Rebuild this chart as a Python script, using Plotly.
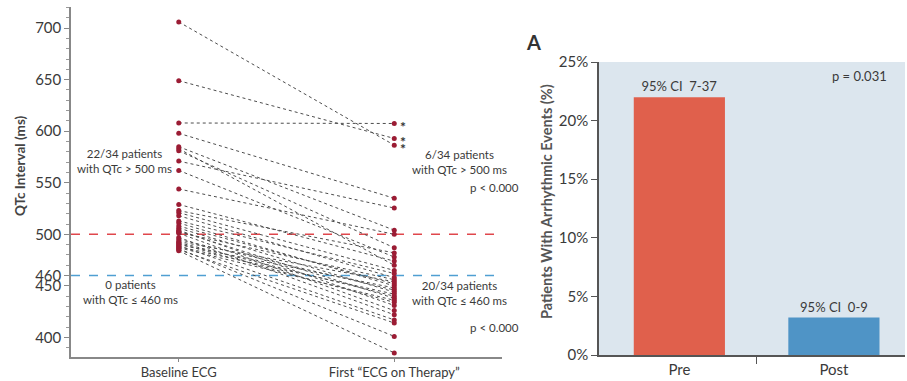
import plotly.graph_objects as go

# ---------------- data ----------------
baseline_qtc = [706, 649, 608, 598, 585, 583, 581, 571, 562, 544, 529, 523, 521, 518,
                513, 511, 508, 506, 504, 503, 502, 501, 497, 495, 493, 492, 491, 490,
                489, 488, 487, 486, 485, 484]
therapy_qtc = [586.5, 593, 607.5, 535, 504, 470, 487, 525.5, 478, 500, 474, 482, 465, 458,
               462, 450, 452, 444, 431, 438, 456, 426, 422, 446, 454, 440, 434, 448,
               417, 442, 436, 401, 414, 385]
starred_qtc = [607.5, 593, 586.5]
left_categories = ["Baseline ECG", "First \u201cECG on Therapy\u201d"]
left_tickvals = [400, 450, 460, 500, 550, 600, 650, 700]
threshold_high = 500
threshold_low = 460

bar_categories = ["Pre", "Post"]
bar_values = [22.0, 3.2]
bar_ci_labels = ["95% CI  7-37", "95% CI  0-9"]
bar_colors = ["#e0604c", "#4f94c6"]
bar_tickvals = [0, 5, 10, 15, 20, 25]
bar_ticktext = ["0%", "5%", "10%", "15%", "20%", "25%"]

W, H = 907, 381
FONT = "Lato"
TXT = "#3a3a3a"

def px_x(p):
    return p / W

def px_y(p):
    return 1 - p / H

fig = go.Figure()

# ---------------- left panel: slope chart ----------------
lx, ly = [], []
for b, t in zip(baseline_qtc, therapy_qtc):
    lx += [0, 1, None]
    ly += [b, t, None]
fig.add_trace(go.Scatter(x=lx, y=ly, mode="lines",
                         line=dict(color="#4d4d4d", width=1, dash="dot"),
                         hoverinfo="skip", showlegend=False, xaxis="x", yaxis="y"))
fig.add_trace(go.Scatter(x=[0] * len(baseline_qtc) + [1] * len(therapy_qtc),
                         y=baseline_qtc + therapy_qtc, mode="markers",
                         marker=dict(color="#9b1c34", size=5),
                         showlegend=False, xaxis="x", yaxis="y"))

for val, col in [(threshold_high, "#e0474c"), (threshold_low, "#4f9fd2")]:
    fig.add_shape(type="line", xref="x", yref="y", x0=-0.5, x1=1.5, y0=val, y1=val,
                  line=dict(color=col, width=1.5, dash="dash"), layer="below")

for v in starred_qtc:
    fig.add_annotation(x=1, y=v, xref="x", yref="y", text="<b>*</b>", showarrow=False,
                       xshift=9, yshift=-3, font=dict(family=FONT, size=14, color="#333"))

left_notes = [
    (-0.25, 571, "22/34 patients<br>with QTc > 500 ms"),
    (-0.226, 444, "0 patients<br>with QTc \u2264 460 ms"),
    (1.305, 570, "6/34 patients<br>with QTc > 500 ms"),
    (1.305, 443, "20/34 patients<br>with QTc \u2264 460 ms"),
]
for x, y, t in left_notes:
    fig.add_annotation(x=x, y=y, xref="x", yref="y", text=t, showarrow=False,
                       font=dict(family=FONT, size=11.5, color=TXT), align="center")
for y in [545, 410]:
    fig.add_annotation(x=1.467, y=y, xref="x", yref="y", text="p < 0.000", showarrow=False,
                       font=dict(family=FONT, size=11.5, color=TXT))

def paper_note(xp, yp, text, size, color, angle=0):
    fig.add_annotation(x=px_x(xp), y=px_y(yp), xref="paper", yref="paper", text=text,
                       textangle=angle, showarrow=False, xanchor="center", yanchor="middle",
                       font=dict(family=FONT, size=size, color=color))

paper_note(20, 166, "<b>QTc Interval (ms)</b>", 13.5, "#444", -90)

# ---------------- right panel: bar chart ----------------
fig.add_shape(type="rect", xref="x2 domain", yref="y2 domain", x0=0, x1=1, y0=0, y1=1,
              fillcolor="#dce6ee", line=dict(width=0), layer="below")
fig.add_trace(go.Bar(x=[0, 1], y=bar_values, marker=dict(color=bar_colors, line=dict(width=0)),
                     width=0.59, text=bar_ci_labels, textposition="outside",
                     textfont=dict(family=FONT, size=13, color=TXT),
                     cliponaxis=False, showlegend=False, xaxis="x2", yaxis="y2"))
paper_note(859, 76, "p = 0.031", 13, TXT)
paper_note(533, 42, "<b>A</b>", 20, "#333")
paper_note(546, 202, "<b>Patients With Arrhythmic Events (%)</b>", 14.5, "#555", -90)

fig.update_layout(
    width=W, height=H, margin=dict(l=0, r=0, t=0, b=0),
    paper_bgcolor="white", plot_bgcolor="rgba(0,0,0,0)",
    xaxis=dict(domain=[px_x(71), px_x(502)], range=[-0.5, 1.5], tickvals=[0, 1],
               ticktext=left_categories, ticks="outside", ticklen=3, tickcolor="#888",
               showline=True, linecolor="#888", linewidth=1.5, showgrid=False, zeroline=False,
               automargin=False, tickfont=dict(family=FONT, size=13, color=TXT)),
    yaxis=dict(domain=[px_y(357), px_y(7)], range=[381, 720.5], tickvals=left_tickvals,
               ticks="outside", ticklen=5, tickcolor="#888",
               minor=dict(tickmode="linear", tick0=0, dtick=10, ticks="outside", ticklen=3,
                          tickcolor="#999"),
               showline=True, linecolor="#888", linewidth=1.5, showgrid=False, zeroline=False,
               automargin=False, tickfont=dict(family=FONT, size=15, color=TXT)),
    xaxis2=dict(domain=[px_x(599), px_x(905)], range=[-0.52, 1.46], tickvals=[0, 1],
                ticktext=bar_categories, ticks="", ticklen=0,
                minor=dict(tickvals=[0.5], ticks="outside", ticklen=7, tickcolor="#555"),
                showline=True, linecolor="#555", linewidth=1.5, showgrid=False, zeroline=False,
                automargin=False, tickfont=dict(family=FONT, size=15, color=TXT), anchor="y2"),
    yaxis2=dict(domain=[px_y(355), px_y(62)], range=[0, 25], tickvals=bar_tickvals,
                ticktext=bar_ticktext, ticks="outside", ticklen=6, tickcolor="#555",
                showline=True, linecolor="#555", linewidth=1.5, showgrid=False, zeroline=False,
                automargin=False, tickfont=dict(family=FONT, size=15, color=TXT), anchor="x2"),
)

fig.write_html("out.html", config={"displayModeBar": False},
               post_script="document.body.style.margin='0';document.body.style.overflow='hidden';")
